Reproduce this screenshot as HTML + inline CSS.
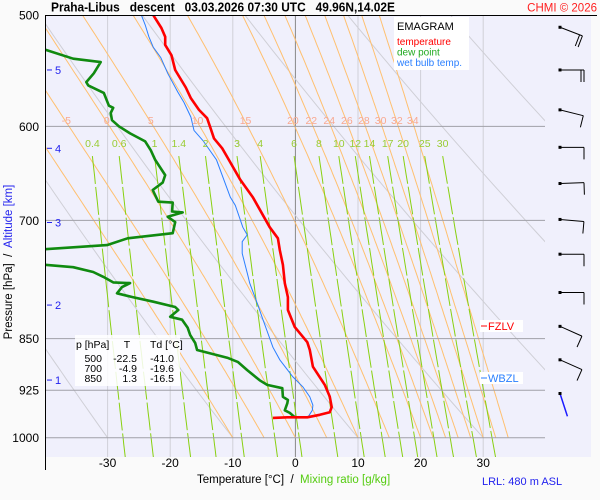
<!DOCTYPE html>
<html><head><meta charset="utf-8">
<style>
html,body{margin:0;padding:0;background:#fafafa;}
svg{display:block;font-family:"Liberation Sans",Arial,sans-serif;}
text{white-space:pre;}
</style></head>
<body>
<svg id="chart" width="600" height="500" viewBox="0 0 600 500" xmlns="http://www.w3.org/2000/svg" xml:space="preserve">
<defs><clipPath id="plotclip"><rect x="45" y="15" width="500" height="442"/></clipPath></defs>
<rect x="45" y="15" width="546" height="442" fill="#f0f0fc"/>
<g id="grid" clip-path="url(#plotclip)"></g>
<g id="traces" clip-path="url(#plotclip)"></g>
<g id="labels"></g>
<g id="winds"></g>
<line x1="45.5" y1="15" x2="45.5" y2="470" stroke="#000" stroke-width="1"/>
<line x1="45" y1="15.5" x2="597" y2="15.5" stroke="#000" stroke-width="1"/>
<text x="51" y="11.5" font-size="12.5" font-weight="bold" textLength="344" lengthAdjust="spacingAndGlyphs">Praha-Libus   descent   03.03.2026 07:30 UTC   49.96N,14.02E</text>
<text x="597" y="11.5" font-size="11.5" fill="#ff2020" text-anchor="end">CHMI © 2026</text>
<g>
<rect x="394" y="17" width="75" height="53" fill="#ffffff"/>
<text x="397" y="30" font-size="11" fill="#000">EMAGRAM</text>
<text x="397" y="45" font-size="10" fill="#ff0000">temperature</text>
<text x="397" y="55.5" font-size="10" fill="#22aa22">dew point</text>
<text x="397" y="66" font-size="10" fill="#2a7fff">wet bulb temp.</text>
</g>
<g font-size="10.5">
<rect x="75" y="335" width="105" height="51" fill="#ffffff" fill-opacity="0.85"/>
<text x="76" y="348">p [hPa]</text><text x="127" y="348" text-anchor="middle">T</text><text x="150" y="348">Td [°C]</text>
<text x="102" y="362" text-anchor="end">500</text><text x="137" y="362" text-anchor="end">-22.5</text><text x="174" y="362" text-anchor="end">-41.0</text>
<text x="102" y="372" text-anchor="end">700</text><text x="137" y="372" text-anchor="end">-4.9</text><text x="174" y="372" text-anchor="end">-19.6</text>
<text x="102" y="382" text-anchor="end">850</text><text x="137" y="382" text-anchor="end">1.3</text><text x="174" y="382" text-anchor="end">-16.5</text>
</g>
<g>
<rect x="480" y="320" width="43" height="12" fill="#ffffff"/>
<line x1="481" y1="326" x2="487" y2="326" stroke="#ff0000"/>
<text x="488" y="330" font-size="11" fill="#ff0000">FZLV</text>
</g>
<g>
<rect x="480" y="372" width="43" height="12" fill="#ffffff"/>
<line x1="481" y1="378" x2="487" y2="378" stroke="#2a7fff"/>
<text x="488" y="382" font-size="11" fill="#2a7fff">WBZL</text>
</g>
<text x="197" y="483" font-size="11.5"><tspan fill="#000">Temperature [°C]  /  </tspan><tspan fill="#55cc11">Mixing ratio [g/kg]</tspan></text>
<text x="482" y="485" font-size="11" fill="#2222ee">LRL: 480 m ASL</text>
<text transform="translate(12,262) rotate(-90)" font-size="11.5" text-anchor="middle"><tspan fill="#000">Pressure [hPa]  /  </tspan><tspan fill="#2222ee">Altitude [km]</tspan></text>
</svg>
<script>
// ---------- data ----------
const tempP = [500,510.6,518,525,534,547,563,573,584,592,601,612,622,632,655,674,708,721,735,753,776,794,811,834,855,866,890,917,935,951,959,963,967,967,968];
const tempT = [-22.7,-21.4,-20.8,-20.8,-19.8,-19.2,-17.5,-16.7,-15.4,-14.1,-13.6,-13.0,-11.7,-10.8,-8.8,-6.8,-4.1,-2.8,-2.5,-2.0,-1.7,-1.2,-1.2,-0.1,1.9,2.3,2.8,4.7,5.5,5.8,5.5,3.9,1.9,-1.3,-3.6];
const dewP = [518,525,529,537,540,550,558,561,568,580,582,587,594,600,607,615,624,634,650,658,666,679,680,690,691,696,702,715,721,729,734,740,751,753,756,762,768,775,776,781,789,794,800,807,811,820,824,835,845,856,866,877,883,895,910,917,922,935,940,945,956,960,967];
const dewT = [-43,-41,-40,-35.5,-31.1,-32.2,-33.4,-33.1,-30.6,-29.8,-29.1,-29.5,-29.3,-28.2,-26.4,-24.0,-23.1,-22.4,-20.8,-21.2,-22.8,-21.9,-19.6,-19.7,-18.0,-20.4,-19.2,-19.6,-26.8,-30.1,-40,-42.5,-42.5,-40,-35.5,-32.3,-30.7,-29.1,-26.4,-27.7,-28.5,-26.0,-22.7,-19.2,-18.7,-20.0,-18.1,-17.2,-16.8,-16.0,-15.7,-10.9,-9.2,-7.7,-5.7,-4.5,-2.1,-2.0,-1.2,-1.3,-1.7,-0.9,-0.1];
const wbP = [500,508,518,527,536,550,567,577,591,604,614,634,674,683,708,717,725,739,766,776,804,821,862,880,905,920,935,948,956,967,967];
const wbT = [-24.6,-24.0,-23.4,-22.7,-21.5,-20.4,-18.8,-17.8,-16.7,-16.2,-14.8,-12.6,-10.4,-9.6,-8.4,-7.7,-8.5,-8.5,-7.6,-7.3,-6.0,-5.3,-3.6,-2.5,-0.4,1.2,2.3,2.8,2.7,2.0,-0.1];
const pressureTicks = [500,600,700,850,925,1000];
const tempTicks = [-30,-20,-10,0,10,20,30];
const isotherms = [-40,-30,-20,-10,0,10,20,30];
const altKm = [1,2,3,4,5];
const altP = [909.7,804.4,702.5,622,547];
const mixRatios = [0.4,0.6,1,1.4,2,3,4,6,8,10,12,14,17,20,25,30];
const moistThetaW = [-10,-5,0,5,10,15,20,22,24,26,28,30,32,34];
const moistLabelled = [-5,0,5,10,15,20,22,24,26,28,30,32,34];
const dryTheta = [203.15,223.15,243.15,263.15,283.15,303.15,323.15,343.15,363.15,383.15];
const windP = [510,547,584,621,659,699,740,788,833,880,930];
const windDir = [111,90,104,90,88,95,90,90,114,114,162];
const windSpd = [20,20,10,10,10,10,10,10,10,10,0];

// ---------- axes ----------
const NS = 'http://www.w3.org/2000/svg';
function xT(t){ return 295.4 + 6.26*t; }
function yP(p){ return 15.2 + 609.6*Math.log(p/500); }
function mk(tag, attrs, parent){ const e=document.createElementNS(NS,tag); for(const k in attrs) e.setAttribute(k,attrs[k]); parent.appendChild(e); return e; }
const grid=document.getElementById('grid'), traces=document.getElementById('traces'), labels=document.getElementById('labels'), winds=document.getElementById('winds');
function pathFrom(ps, ts){ return ps.map((p,i)=>(i?'L':'M')+xT(ts[i]).toFixed(1)+','+yP(p).toFixed(1)).join(''); }

// isotherms
isotherms.forEach(t=>{
  const l=mk('line',{x1:xT(t),x2:xT(t),y1:15,y2:457,stroke:t===0?'#888':'#d0d0d8','stroke-width':1},grid);
  
  
});
// dry adiabats
dryTheta.forEach(th=>{
  const ps=[],ts=[];
  for(let p=480;p<=1000;p+=10){ ps.push(p); ts.push(th*Math.pow(p/1000,0.2857)-273.15); }
  const e=mk('path',{d:pathFrom(ps,ts),fill:'none',stroke:'#cfcfd6','stroke-width':1},grid);
  
  
});
// moist adiabats
function dTdp(p,T){ const Tc=T-273.15; const es=6.112*Math.exp(17.67*Tc/(Tc+243.5)); const rs=0.622*es/(p-es);
  return (287.04*T+2.501e6*rs)/(p*(1005.7+2.501e6*2.501e6*rs*0.622/(287.04*T*T))); }
const moistAt600={};
moistThetaW.forEach(tw=>{
  let T=tw+273.15, p=1000; const ps=[p],ts=[tw];
  while(p>480){ const h=-4; const k1=dTdp(p,T); const k2=dTdp(p+h,T+h*k1); T+=h*(k1+k2)/2; p+=h; ps.push(p); ts.push(T-273.15); if(p===596) moistAt600[tw]=T-273.15; }
  const e=mk('path',{d:pathFrom(ps,ts),fill:'none',stroke:'#ffc070','stroke-width':1},grid);
  
  
});
// mixing ratio lines
function tMix(w,p){ const e=w*p/(622+w); const l=Math.log(e/6.112); return 243.5*l/(17.67-l); }
mixRatios.forEach(w=>{
  const ps=[],ts=[];
  for(let p=630;p<=1050;p+=10){ ps.push(p); ts.push(tMix(w,p)); }
  const e=mk('path',{d:pathFrom(ps,ts),fill:'none',stroke:'#88d010','stroke-width':1,'stroke-dasharray':'28 3'},grid);
  
  
});
// pressure grid
pressureTicks.forEach(p=>{
  if(p>500){ const l=mk('line',{x1:45,x2:545,y1:yP(p),y2:yP(p),stroke:'#a0a0a8','stroke-width':1},grid);
    
     }
  const t=mk('text',{x:39,y:yP(p)+4.5,'font-size':12,'text-anchor':'end',fill:'#000'},labels);
  t.textContent=p;
  
  
});
// temperature ticks
tempTicks.forEach(v=>{
  const t=mk('text',{x:xT(v),y:467,'font-size':12,'text-anchor':'middle',fill:'#000'},labels);
  t.textContent=v;
  
  
});
// altitude ticks
altKm.forEach((k,i)=>{
  const y=yP(altP[i]);
  const l=mk('line',{x1:47,x2:52,y1:y,y2:y,stroke:'#2222ee','stroke-width':1},labels);
  
  
  const t=mk('text',{x:55,y:y+4,'font-size':11,fill:'#2222ee'},labels);
  t.textContent=k;
  
  
});
// moist labels
moistLabelled.forEach(tw=>{
  const t=mk('text',{x:xT(moistAt600[tw]),y:124,'font-size':10.5,'text-anchor':'middle',fill:'#f8a890'},labels);
  t.textContent=tw;
  
  
});
// mixing labels
mixRatios.forEach(w=>{
  const t=mk('text',{x:xT(tMix(w,630)),y:147,'font-size':10.5,'text-anchor':'middle',fill:'#99cc33'},labels);
  t.textContent=w;
  
  
});
// traces
const wb=mk('path',{d:pathFrom(wbP,wbT),fill:'none',stroke:'#2a7fff','stroke-width':1},traces);


const dw=mk('path',{d:pathFrom(dewP,dewT),fill:'none',stroke:'#108a10','stroke-width':2.6,'stroke-linejoin':'round'},traces);


const tp=mk('path',{d:pathFrom(tempP,tempT),fill:'none',stroke:'#ff0000','stroke-width':2.6,'stroke-linejoin':'round'},traces);


// wind barbs
windP.forEach((p,i)=>{
  const y0=yP(p), x0=560, d=windDir[i]*Math.PI/180, L=24;
  const ux=Math.sin(d), uy=-Math.cos(d);
  const x1=x0+ux*L, y1=y0+uy*L;
  const g=mk('g',{},winds);
  
  
  const col = windSpd[i]===0 ? '#1a1aff' : '#000';
  mk('line',{x1:x0,y1:y0,x2:x1,y2:y1,stroke:col,'stroke-width':windSpd[i]===0?1.5:1},g);
  mk('rect',{x:x0-1.5,y:y0-1.5,width:3,height:3,fill:'#000'},g);
  let s=windSpd[i], k=0;
  while(s>=10){ const bx=x1-ux*k*3, by=y1-uy*k*3;
    mk('line',{x1:bx,y1:by,x2:bx-uy*12,y2:by+ux*12,stroke:col,'stroke-width':1},g); s-=10; k++; }
  if(s>=5){ const bx=x1-ux*k*3, by=y1-uy*k*3; mk('line',{x1:bx,y1:by,x2:bx-uy*6,y2:by+ux*6,stroke:col,'stroke-width':1},g); }
});
</script>
</body></html>
